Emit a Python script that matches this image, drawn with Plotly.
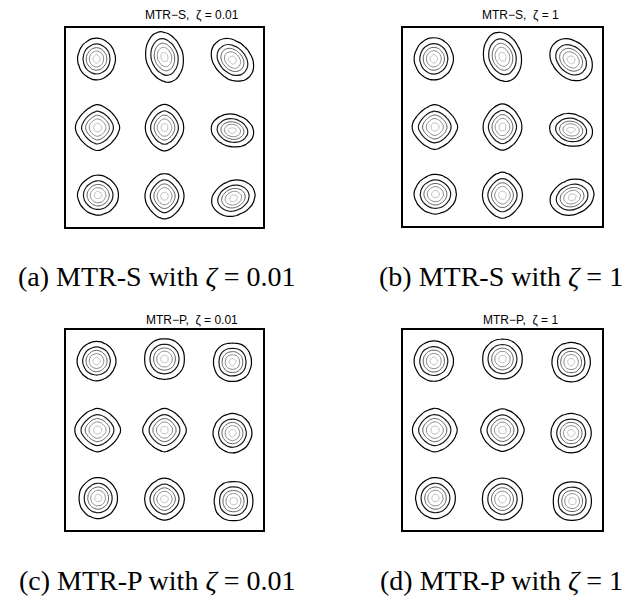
import numpy as np
import plotly.graph_objects as go

# ---- data -------------------------------------------------------------
NB = "\u00a0"
PANEL_TITLES = [f"MTR\u2212S,{NB}{NB}\u03b6{NB}={NB}0.01", f"MTR\u2212S,{NB}{NB}\u03b6{NB}={NB}1",
                f"MTR\u2212P,{NB}{NB}\u03b6{NB}={NB}0.01", f"MTR\u2212P,{NB}{NB}\u03b6{NB}={NB}1"]
CAPTIONS = ["(a) MTR-S with <i>\u03b6</i> = 0.01", "(b) MTR-S with <i>\u03b6</i> = 1",
            "(c) MTR-P with <i>\u03b6</i> = 0.01", "(d) MTR-P with <i>\u03b6</i> = 1"]

# blob centres, row-major from the top-left (unit square)
CENTER_X = [0.155, 0.50, 0.845, 0.16, 0.50, 0.845, 0.163, 0.50, 0.85]
CENTER_Y = [0.845, 0.855, 0.84, 0.50, 0.50, 0.485, 0.16, 0.155, 0.145]

# spread along the rotated u / v axes, rotation (deg) and shape exponent
SIGMA_U = [
    [0.044, 0.043, 0.056, 0.052, 0.045, 0.050, 0.048, 0.046, 0.052],
    [0.045, 0.043, 0.055, 0.053, 0.045, 0.050, 0.049, 0.047, 0.052],
    [0.045, 0.047, 0.044, 0.054, 0.051, 0.045, 0.045, 0.047, 0.045],
    [0.045, 0.046, 0.044, 0.052, 0.050, 0.046, 0.046, 0.047, 0.044],
]
SIGMA_V = [
    [0.048, 0.060, 0.042, 0.053, 0.054, 0.037, 0.046, 0.053, 0.040],
    [0.049, 0.059, 0.042, 0.052, 0.054, 0.037, 0.046, 0.054, 0.040],
    [0.045, 0.047, 0.044, 0.050, 0.050, 0.045, 0.047, 0.048, 0.045],
    [0.046, 0.046, 0.045, 0.050, 0.049, 0.045, 0.047, 0.048, 0.044],
]
ANGLE = [
    [0, 15, -45, 0, 0, -12, 0, 0, 20],
    [0, 15, -45, 0, 0, -12, 0, 0, 20],
    [0, 0, 0, 0, 0, 0, 0, 0, 0],
    [0, 0, 0, 0, 0, 0, 0, 0, 0],
]
SHAPE_P = [
    [2.0, 1.9, 2.0, 1.6, 1.7, 2.0, 1.9, 1.7, 2.0],
    [2.0, 1.9, 2.0, 1.6, 1.7, 2.0, 1.9, 1.7, 2.0],
    [2.0, 2.1, 2.3, 1.6, 1.6, 2.0, 2.0, 1.8, 2.3],
    [2.1, 2.1, 2.2, 1.7, 1.7, 2.1, 2.0, 2.0, 2.3],
]
LEVELS = [0.1, 0.3, 0.5, 0.7, 0.9]

# ---- styling -----------------------------------------------------------
LEVEL_COLORS = ["#000000", "#1a1a1a", "#606060", "#8c8c8c", "#c0c0c0"]
LEVEL_WIDTHS = [1.2, 1.2, 1.0, 1.0, 1.0]
X_DOMAINS = [[0.1038, 0.4135], [0.6336, 0.9465], [0.1038, 0.4135], [0.6336, 0.9465]]
Y_DOMAINS = [[0.621, 0.953], [0.623, 0.953], [0.115, 0.449], [0.115, 0.449]]
TITLE_POS = [(0.302, 0.975), (0.818, 0.975), (0.302, 0.4658), (0.818, 0.4658)]
CAPTION_POS = [(0.247, 0.5376), (0.788, 0.5376), (0.247, 0.0317), (0.788, 0.0317)]

grid = np.linspace(0.0, 1.0, 46)
GX, GY = np.meshgrid(grid, grid)


def density(k):
    z = np.zeros_like(GX)
    for i in range(9):
        t = np.deg2rad(ANGLE[k][i])
        dx, dy = GX - CENTER_X[i], GY - CENTER_Y[i]
        u = (dx * np.cos(t) + dy * np.sin(t)) / SIGMA_U[k][i]
        v = (-dx * np.sin(t) + dy * np.cos(t)) / SIGMA_V[k][i]
        p = SHAPE_P[k][i]
        m = (np.abs(u) ** p + np.abs(v) ** p) ** (2.0 / p)
        z += np.exp(-0.5 * m)
    return z


fig = go.Figure()

for k in range(4):
    sfx = "" if k == 0 else str(k + 1)
    z = density(k)
    for lev, col, w in zip(LEVELS, LEVEL_COLORS, LEVEL_WIDTHS):
        fig.add_trace(go.Contour(
            x=grid, y=grid, z=z,
            xaxis="x" + sfx, yaxis="y" + sfx,
            autocontour=False,
            contours=dict(coloring="none", start=lev, end=lev, size=1),
            line=dict(width=w, color=col), showscale=False, hoverinfo="skip",
        ))
    ax = dict(range=[0, 1], showgrid=False, zeroline=False, showticklabels=False,
              ticks="", showline=True, mirror=True, linecolor="black", linewidth=1.6)
    fig.update_layout({
        "xaxis" + sfx: dict(ax, domain=X_DOMAINS[k], anchor="y" + sfx),
        "yaxis" + sfx: dict(ax, domain=Y_DOMAINS[k], anchor="x" + sfx),
    })
    fig.add_annotation(x=TITLE_POS[k][0], y=TITLE_POS[k][1], xref="paper", yref="paper",
                       xanchor="center", yanchor="middle",
                       text=PANEL_TITLES[k], showarrow=False,
                       font=dict(family="Liberation Sans, Arial", size=12, color="black"))
    fig.add_annotation(x=CAPTION_POS[k][0], y=CAPTION_POS[k][1], xref="paper", yref="paper",
                       xanchor="center", yanchor="middle",
                       text=CAPTIONS[k], showarrow=False,
                       font=dict(family="Liberation Serif, Times New Roman", size=28, color="black"))

fig.update_layout(width=636, height=599, margin=dict(l=0, r=0, t=0, b=0),
                  paper_bgcolor="white", plot_bgcolor="white", showlegend=False)
fig.write_html("out.html")
